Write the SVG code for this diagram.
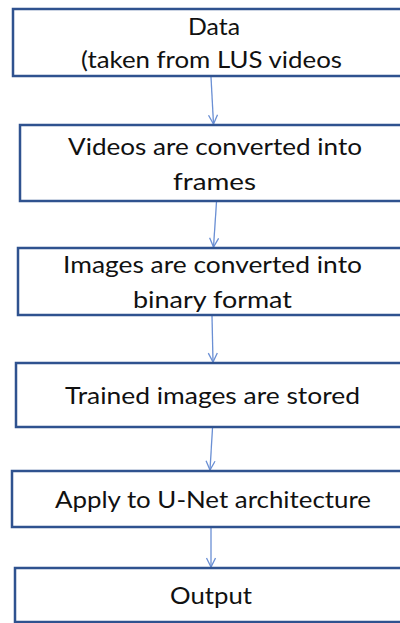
<svg xmlns="http://www.w3.org/2000/svg" width="400" height="623" viewBox="0 0 400 623">
  <style>
    .box { fill: #ffffff; stroke: #2f528f; stroke-width: 2.5; }
    .label { font-family: Lato, "Open Sans", "Liberation Sans", sans-serif; font-size: 23px; fill: #111111; text-anchor: middle; }
    .flow { stroke: #6a8fd4; stroke-width: 1.3; fill: none; marker-end: url(#arrow); }
  </style>
  <defs>
    <marker id="arrow" markerWidth="12" markerHeight="12" refX="10" refY="5" orient="auto" markerUnits="userSpaceOnUse">
      <polyline points="1,0.5 10,5 1,9.5" fill="none" stroke="#6a8fd4" stroke-width="1.3"/>
    </marker>
  </defs>
  <rect width="400" height="623" fill="#ffffff"/>

  <g id="connectors">
    <line class="flow" x1="211" y1="77" x2="213.5" y2="124"/>
    <line class="flow" x1="216.5" y1="202" x2="213.5" y2="247"/>
    <line class="flow" x1="212" y1="316" x2="213" y2="362"/>
    <line class="flow" x1="212.5" y1="428" x2="210" y2="470"/>
    <line class="flow" x1="211" y1="528" x2="211" y2="567"/>
  </g>

  <g id="node-data">
    <rect class="box" x="13" y="9" width="402" height="67"/>
    <text class="label" x="214" y="34.5" textLength="52" lengthAdjust="spacingAndGlyphs">Data</text>
    <text class="label" x="211.5" y="67.5" textLength="261" lengthAdjust="spacingAndGlyphs">(taken from LUS videos</text>
  </g>

  <g id="node-frames">
    <rect class="box" x="20" y="125" width="400" height="76"/>
    <text class="label" x="215" y="155" textLength="294" lengthAdjust="spacingAndGlyphs">Videos are converted into</text>
    <text class="label" x="214.5" y="190" textLength="83" lengthAdjust="spacingAndGlyphs">frames</text>
  </g>

  <g id="node-binary">
    <rect class="box" x="18" y="248" width="400" height="67"/>
    <text class="label" x="212.5" y="273" textLength="299" lengthAdjust="spacingAndGlyphs">Images are converted into</text>
    <text class="label" x="212.5" y="307.5" textLength="159" lengthAdjust="spacingAndGlyphs">binary format</text>
  </g>

  <g id="node-stored">
    <rect class="box" x="16" y="363" width="400" height="64"/>
    <text class="label" x="212.5" y="404" textLength="295" lengthAdjust="spacingAndGlyphs">Trained images are stored</text>
  </g>

  <g id="node-unet">
    <rect class="box" x="12" y="471" width="400" height="56"/>
    <text class="label" x="213" y="507.5" textLength="316" lengthAdjust="spacingAndGlyphs">Apply to U-Net architecture</text>
  </g>

  <g id="node-output">
    <rect class="box" x="15" y="568" width="400" height="54"/>
    <text class="label" x="211" y="604" textLength="82" lengthAdjust="spacingAndGlyphs">Output</text>
  </g>
</svg>
